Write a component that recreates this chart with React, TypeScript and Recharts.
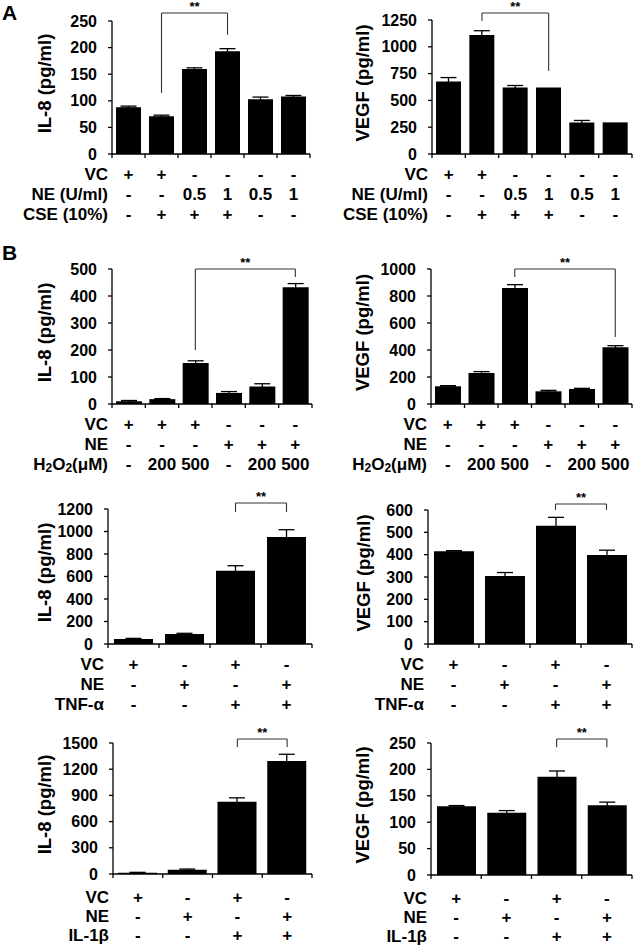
import React from 'react';
import { BarChart, Bar, XAxis, YAxis, ErrorBar, ReferenceLine } from 'recharts';

const FONT = '"Liberation Sans", Arial, Helvetica, sans-serif';

// ---------- Panel A ----------
const aIl8Values = [88, 71, 160, 193, 103, 108];
const aIl8Errors = [2, 2, 2, 5, 4, 2];
const aIl8Ticks = [0, 50, 100, 150, 200, 250];
const aVegfValues = [676, 1110, 620, 620, 295, 295];
const aVegfErrors = [37, 40, 19, 0, 18, 0];
const aVegfTicks = [0, 250, 500, 750, 1000, 1250];
const aVC = ['+', '+', '-', '-', '-', '-'];
const aNE = ['-', '-', '0.5', '1', '0.5', '1'];
const aCSE = ['-', '+', '+', '+', '-', '-'];

// ---------- Panel B: H2O2 ----------
const bIl8Values = [10, 18, 152, 41, 65, 432];
const bIl8Errors = [3, 2, 8, 5, 10, 14];
const bIl8Ticks = [0, 100, 200, 300, 400, 500];
const bVegfValues = [131, 230, 859, 94, 111, 420];
const bVegfErrors = [5, 10, 25, 7, 5, 12];
const bVegfTicks = [0, 200, 400, 600, 800, 1000];
const bVC = ['+', '+', '+', '-', '-', '-'];
const bNE = ['-', '-', '-', '+', '+', '+'];
const bH2O2 = ['-', '200', '500', '-', '200', '500'];

// ---------- Panel B: TNF-alpha ----------
const tIl8Values = [44, 89, 652, 951];
const tIl8Errors = [6, 6, 44, 65];
const tIl8Ticks = [0, 200, 400, 600, 800, 1000, 1200];
const tVegfValues = [415, 305, 530, 399];
const tVegfErrors = [3, 15, 37, 21];
const tVegfTicks = [0, 100, 200, 300, 400, 500, 600];
const tVC = ['+', '-', '+', '-'];
const tNE = ['-', '+', '-', '+'];
const tTNF = ['-', '-', '+', '+'];

// ---------- Panel B: IL-1beta ----------
const iIl8Values = [15, 49, 826, 1294];
const iIl8Errors = [4, 8, 46, 77];
const iIl8Ticks = [0, 300, 600, 900, 1200, 1500];
const iVegfValues = [130, 118, 186, 132];
const iVegfErrors = [1.5, 4, 11, 6];
const iVegfTicks = [0, 50, 100, 150, 200, 250];
const iVC = ['+', '-', '+', '-'];
const iNE = ['-', '+', '-', '+'];
const iIL1 = ['-', '-', '+', '+'];

const h2o2Label = (
  <>
    <tspan>H</tspan>
    <tspan dy={4} fontSize={12}>2</tspan>
    <tspan dy={-4}>O</tspan>
    <tspan dy={4} fontSize={12}>2</tspan>
    <tspan dy={-4}>(μM)</tspan>
  </>
);

type Bracket = { from: number; to: number; top: number; leftBottom: number; rightBottom: number };

type PanelProps = {
  left: number;
  top: number;
  width: number;
  axisX: number;
  plotTop: number;
  plotBottom: number;
  plotRight: number;
  values: number[];
  errors: number[];
  yTicks: number[];
  yLabel: string;
  yLabelX: number;
  rowLabels: React.ReactNode[];
  rows: string[][];
  rowOffsets: number[];
  bracket: Bracket;
  barSize: number;
};

const TABLE_H = 72;
const BOUND_H = 6;

function Panel(p: PanelProps) {
  const n = p.values.length;
  const data = p.values.map((v, i) => ({ x: i + 0.5, v, e: p.errors[i] }));
  const bounds = Array.from({ length: n + 1 }, (_, i) => i);
  const centers = Array.from({ length: n }, (_, i) => i + 0.5);
  const height = p.plotBottom - p.top + BOUND_H + TABLE_H + 2;
  const mTop = p.plotTop - p.top;
  const mBottom = height - (p.plotBottom - p.top) - BOUND_H - TABLE_H;
  const mRight = p.left + p.width - p.plotRight;
  const yAxisW = p.axisX - p.left;
  const tickTxt = { fontFamily: FONT, fontWeight: 700, fontSize: 16, fill: '#000' } as const;
  const tableTxt = { fontFamily: FONT, fontWeight: 700, fontSize: 17, fill: '#000' } as const;
  const labelRight = p.axisX - p.left - 4;
  const ymax = p.yTicks[p.yTicks.length - 1];

  const renderTableTick = (props: any) => {
    const { x, y, index } = props;
    return (
      <g>
        {p.rows.map((r, ri) => (
          <text key={ri} x={x} y={y + p.rowOffsets[ri]} textAnchor="middle" dominantBaseline="central" {...tableTxt}>
            {r[index]}
          </text>
        ))}
        {index === 0 &&
          p.rowLabels.map((lab, ri) => (
            <text key={'l' + ri} x={labelRight} y={y + p.rowOffsets[ri]} textAnchor="end" dominantBaseline="central" {...tableTxt}>
              {lab}
            </text>
          ))}
      </g>
    );
  };

  const cy = (p.plotTop + p.plotBottom) / 2 - p.top - 4;
  const cx = p.yLabelX - p.left;
  const yLabelContent = () => (
    <text
      x={cx}
      y={cy}
      transform={`rotate(-90, ${cx}, ${cy})`}
      textAnchor="middle"
      dominantBaseline="central"
      fontFamily={FONT}
      fontWeight={700}
      fontSize={18.5}
      fill="#000"
    >
      {p.yLabel}
    </text>
  );

  const b = p.bracket;
  const bStroke = { stroke: '#333', strokeWidth: 1.1 };

  return (
    <div style={{ position: 'absolute', left: p.left, top: p.top }}>
      <BarChart
        width={p.width}
        height={height}
        data={data}
        margin={{ top: mTop, right: mRight, bottom: mBottom, left: 0 }}
      >
        <XAxis
          xAxisId="b"
          dataKey="x"
          type="number"
          domain={[0, n]}
          ticks={bounds}
          interval={0}
          tickSize={4}
          tickFormatter={() => ''}
          height={BOUND_H}
          axisLine={{ stroke: '#000', strokeWidth: 1.3 }}
          tickLine={{ stroke: '#000', strokeWidth: 1.3 }}
        />
        <XAxis
          xAxisId="t"
          dataKey="x"
          type="number"
          domain={[0, n]}
          ticks={centers}
          interval={0}
          axisLine={false}
          tickLine={false}
          tickSize={0}
          tickMargin={0}
          height={TABLE_H}
          tick={renderTableTick}
        />
        <YAxis
          yAxisId="y"
          type="number"
          domain={[0, ymax]}
          ticks={p.yTicks}
          interval={0}
          width={yAxisW}
          tickSize={4}
          tickMargin={11}
          axisLine={{ stroke: '#000', strokeWidth: 1.3 }}
          tickLine={{ stroke: '#000', strokeWidth: 1.3 }}
          tick={{ ...tickTxt }}
          label={yLabelContent}
        />
        <Bar xAxisId="b" yAxisId="y" dataKey="v" fill="#000" barSize={p.barSize} isAnimationActive={false}>
          <ErrorBar dataKey="e" width={8} stroke="#000" strokeWidth={1.3} direction="y" />
        </Bar>
        <ReferenceLine
          xAxisId="b"
          yAxisId="y"
          ifOverflow="visible"
          segment={[{ x: b.from, y: b.leftBottom }, { x: b.from, y: b.top }]}
          {...bStroke}
        />
        <ReferenceLine
          xAxisId="b"
          yAxisId="y"
          ifOverflow="visible"
          segment={[{ x: b.to, y: b.rightBottom }, { x: b.to, y: b.top }]}
          {...bStroke}
        />
        <ReferenceLine
          xAxisId="b"
          yAxisId="y"
          ifOverflow="visible"
          segment={[{ x: b.from, y: b.top }, { x: b.to, y: b.top }]}
          {...bStroke}
          label={{ value: '**', position: 'top', offset: 2, fontSize: 13, fill: '#000', fontFamily: FONT, fontWeight: 700 }}
        />
      </BarChart>
    </div>
  );
}

export default function App() {
  const L = 0;
  const R = 316;
  return (
    <div
      style={{
        position: 'absolute',
        left: 0,
        top: 0,
        width: 633,
        height: 945,
        background: '#fff',
        overflow: 'hidden',
        fontFamily: FONT,
      }}
    >
      <div style={{ position: 'absolute', left: 2, top: 2, fontSize: 21, fontWeight: 700, lineHeight: 1 }}>A</div>
      <div style={{ position: 'absolute', left: 2, top: 242, fontSize: 21, fontWeight: 700, lineHeight: 1 }}>B</div>

      <Panel
        left={L} top={0} width={316} axisX={112} plotTop={21} plotBottom={154} plotRight={310}
        values={aIl8Values} errors={aIl8Errors} yTicks={aIl8Ticks} yLabel="IL-8 (pg/ml)" yLabelX={44}
        rowLabels={['VC', 'NE (U/ml)', 'CSE (10%)']} rows={[aVC, aNE, aCSE]} rowOffsets={[14, 34, 54]}
        bracket={{ from: 1.5, to: 3.5, top: 265, leftBottom: 115, rightBottom: 224 }} barSize={25}
      />
      <Panel
        left={R} top={0} width={317} axisX={432} plotTop={20} plotBottom={154} plotRight={632}
        values={aVegfValues} errors={aVegfErrors} yTicks={aVegfTicks} yLabel="VEGF (pg/ml)" yLabelX={362}
        rowLabels={['VC', 'NE (U/ml)', 'CSE (10%)']} rows={[aVC, aNE, aCSE]} rowOffsets={[14, 34, 54]}
        bracket={{ from: 1.5, to: 3.5, top: 1315, leftBottom: 1240, rightBottom: 774 }} barSize={25}
      />

      <Panel
        left={L} top={240} width={316} axisX={112} plotTop={269} plotBottom={404} plotRight={312}
        values={bIl8Values} errors={bIl8Errors} yTicks={bIl8Ticks} yLabel="IL-8 (pg/ml)" yLabelX={44}
        rowLabels={['VC', 'NE', h2o2Label]} rows={[bVC, bNE, bH2O2]} rowOffsets={[14, 34, 54]}
        bracket={{ from: 2.5, to: 5.5, top: 500, leftBottom: 200, rightBottom: 470 }} barSize={26}
      />
      <Panel
        left={R} top={240} width={317} axisX={431} plotTop={269} plotBottom={404} plotRight={632}
        values={bVegfValues} errors={bVegfErrors} yTicks={bVegfTicks} yLabel="VEGF (pg/ml)" yLabelX={362}
        rowLabels={['VC', 'NE', h2o2Label]} rows={[bVC, bNE, bH2O2]} rowOffsets={[14, 34, 54]}
        bracket={{ from: 2.5, to: 5.5, top: 1000, leftBottom: 940, rightBottom: 496 }} barSize={26}
      />

      <Panel
        left={L} top={485} width={316} axisX={108} plotTop={509} plotBottom={644} plotRight={312}
        values={tIl8Values} errors={tIl8Errors} yTicks={tIl8Ticks} yLabel="IL-8 (pg/ml)" yLabelX={44}
        rowLabels={['VC', 'NE', 'TNF-α']} rows={[tVC, tNE, tTNF]} rowOffsets={[14, 34, 54]}
        bracket={{ from: 2.5, to: 3.5, top: 1253, leftBottom: 1173, rightBottom: 1173 }} barSize={39}
      />
      <Panel
        left={R} top={485} width={317} axisX={428} plotTop={510} plotBottom={644} plotRight={632}
        values={tVegfValues} errors={tVegfErrors} yTicks={tVegfTicks} yLabel="VEGF (pg/ml)" yLabelX={363}
        rowLabels={['VC', 'NE', 'TNF-α']} rows={[tVC, tNE, tTNF]} rowOffsets={[14, 34, 54]}
        bracket={{ from: 2.5, to: 3.5, top: 627, leftBottom: 600, rightBottom: 600 }} barSize={40}
      />

      <Panel
        left={L} top={720} width={316} axisX={113} plotTop={743} plotBottom={874} plotRight={312}
        values={iIl8Values} errors={iIl8Errors} yTicks={iIl8Ticks} yLabel="IL-8 (pg/ml)" yLabelX={44}
        rowLabels={['VC', 'NE', 'IL-1β']} rows={[iVC, iNE, iIL1]} rowOffsets={[17, 36, 55]}
        bracket={{ from: 2.5, to: 3.5, top: 1546, leftBottom: 1454, rightBottom: 1454 }} barSize={39}
      />
      <Panel
        left={R} top={720} width={317} axisX={431} plotTop={743} plotBottom={875} plotRight={632}
        values={iVegfValues} errors={iVegfErrors} yTicks={iVegfTicks} yLabel="VEGF (pg/ml)" yLabelX={362}
        rowLabels={['VC', 'NE', 'IL-1β']} rows={[iVC, iNE, iIL1]} rowOffsets={[17, 36, 55]}
        bracket={{ from: 2.5, to: 3.5, top: 257.6, leftBottom: 242, rightBottom: 242 }} barSize={39}
      />
    </div>
  );
}
